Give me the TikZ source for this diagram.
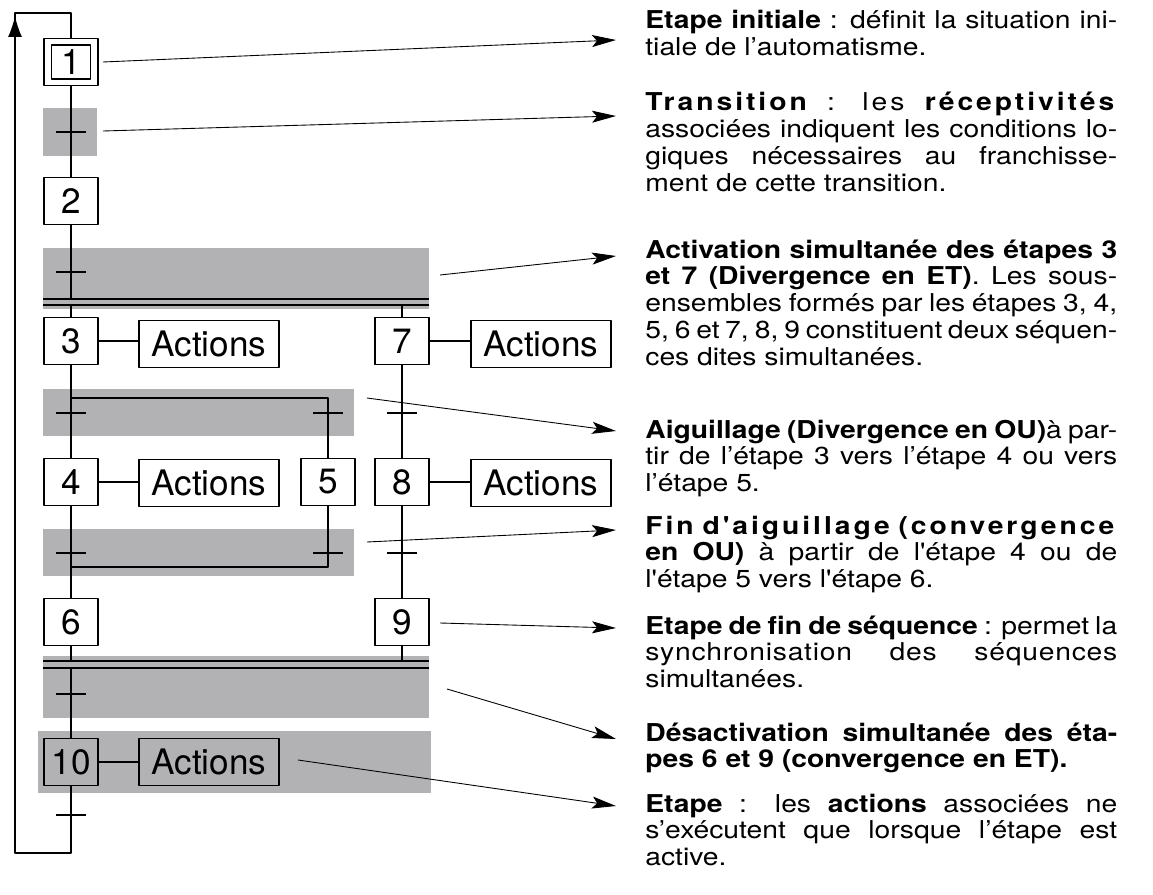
\documentclass[tikz,border=0pt]{standalone}
\usepackage{fontspec}
\setmainfont{TeX Gyre Heros}
\newfontfamily\notefont{TeX Gyre Heros}[FakeStretch=1.15]
\usetikzlibrary{arrows.meta}
\definecolor{recgris}{RGB}{178,177,180}
\tikzset{
  etape/.style={draw, line width=0.8pt, fill=white, minimum width=1.08cm, minimum height=0.94cm, inner sep=0pt, font=\fontsize{20}{20}\selectfont},
  action/.style={etape, minimum width=2.8cm},
  note/.style={anchor=base west, inner sep=0pt, text width=9.44cm, align=justify, font=\notefont\fontsize{14}{15.3}\selectfont},
  ptr/.style={line width=0.5pt, -{Stealth[length=4.8mm,width=2.4mm,inset=1mm]}},
}
\begin{document}
\begin{tikzpicture}[x=0.02cm, y=-0.02cm, line join=round]
  \useasboundingbox (0,0) rectangle (1153,895);
  % zones grisees
  \fill[recgris] (43,108) rectangle (97,156);
  \fill[recgris] (43,248) rectangle (429,309);
  \fill[recgris] (43,389) rectangle (354,436);
  \fill[recgris] (43,529) rectangle (354,576);
  \fill[recgris] (43,656) rectangle (429,718);
  \fill[recgris] (38,731) rectangle (431,793);
  % etapes
  \node[etape] (e1) at (71,62) {1};
  \draw[line width=0.8pt] ([shift={(8,-7)}]e1.south west) rectangle ([shift={(-8,7)}]e1.north east);
  \node[etape] (e2) at (71,201) {2};
  \node[etape] (e3) at (71,341) {3};
  \node[action] (a3) at (209,344) {Actions};
  \node[etape] (e7) at (402,341) {7};
  \node[action] (a7) at (541,344) {Actions};
  \node[etape] (e4) at (71,482) {4};
  \node[action] (a4) at (209,483) {Actions};
  \node[etape] (e5) at (328,482) {5};
  \node[etape] (e8) at (402,482) {8};
  \node[action] (a8) at (541,483) {Actions};
  \node[etape] (e6) at (71,622) {6};
  \node[etape] (e9) at (402,622) {9};
  \node[etape, fill=none] (e10) at (71,762) {10};
  \node[action, fill=none] (a10) at (209,762) {Actions};
  % barres doubles
  \coordinate (et1) at (43,299);
  \coordinate (et2) at (43,661);
  \draw[line width=0.8pt] (43,299) -- (429,299) (43,305) -- (429,305);
  \draw[line width=0.8pt] (43,661) -- (429,661) (43,668) -- (429,668);
  % liaisons
  \begin{scope}[line width=0.8pt]
    \draw (e10.south) -- (71,853) -- (15,853) -- (15,13) -- (71,13) -- (e1.north);
    \draw[-{Latex[length=4.2mm,width=2.8mm]}] (15,100) -- (15,16);
    \draw (e1.south) -- (e2.north);
    \draw (e2.south) -- (e2.south |- et1);
    \draw (e3.north) -- ++(0,-13);
    \draw (e7.north) -- ++(0,-13);
    \draw (e3.east) -- (e3.east -| a3.west);
    \draw (e7.east) -- (e7.east -| a7.west);
    \draw (e4.east) -- (e4.east -| a4.west);
    \draw (e8.east) -- (e8.east -| a8.west);
    \draw (e10.east) -- (e10.east -| a10.west);
    \draw (e3.south) -- (e4.north);
    \draw (71,398) -- (328,398) -- (e5.north);
    \draw (e7.south) -- (e8.north);
    \draw (e4.south) -- (e6.north);
    \draw (e5.south) -- (328,567) -- (71,567);
    \draw (e8.south) -- (e9.north);
    \draw (e6.south) -- (e6.south |- et2);
    \draw (e9.south) -- (e9.south |- et2);
    \draw (71,668) -- (e10.north);
    \foreach \x/\y in {71/132, 71/272, 71/413, 328/413, 402/413, 71/553, 328/553, 402/553, 71/694, 71/815}
      \draw (\x-15,\y) -- (\x+15,\y);
  \end{scope}
  % fleches vers les commentaires
  \foreach \i/\xa/\ya/\yb in {1/103/62/40, 2/103/131/116, 3/440/275/256, 4/367/398/431, 5/367/542/530, 6/440/623/628, 7/447/689/739, 8/298/760/806} {
    \coordinate (s\i) at (\xa,\ya);
    \coordinate (f\i) at (616,\yb);
    \draw[ptr] (s\i) -- (f\i);
  }
  % commentaires
  \node[note] (n1) at (645,29) {\textbf{Etape initiale} : définit la situation ini-\linebreak tiale de l’automatisme.};
  \node[note] (n2) at (645,111) {{\addfontfeatures{LetterSpace=12}\textbf{Transition} : les \textbf{réceptivités}}\linebreak associées indiquent les conditions lo-\linebreak giques nécessaires au franchisse-\linebreak ment de cette transition.};
  \node[note] (n3) at (645,258) {\textbf{Activation simultanée des étapes 3\linebreak et 7 (Divergence en ET)}. Les sous-\linebreak ensembles formés par les étapes 3, 4,\linebreak 5, 6 et 7, 8, 9 constituent deux séquen-\linebreak ces dites simultanées.};
  \node[note] (n4) at (645,438) {\textbf{Aiguillage (Divergence en OU)}à par-\linebreak tir de l’étape 3 vers l’étape 4 ou vers\linebreak l’étape 5.};
  \node[note] (n5) at (645,534) {{\addfontfeatures{LetterSpace=12}\textbf{Fin d'aiguillage (convergence}}\linebreak \textbf{en OU)} à partir de l'étape 4 ou de\linebreak l'étape 5 vers l'étape 6.};
  \node[note] (n6) at (645,634) {\textbf{Etape de fin de séquence} : permet la\linebreak {\addfontfeatures{LetterSpace=3}synchronisation des séquences}\linebreak simultanées.};
  \node[note] (n7) at (645,741) {\textbf{Désactivation simultanée des éta-\linebreak pes 6 et 9 (convergence en ET).}};
  \node[note] (n8) at (645,812) {\textbf{Etape} : les \textbf{actions} associées ne\linebreak s’exécutent que lorsque l’étape est\linebreak active.};
\end{tikzpicture}
\end{document}
